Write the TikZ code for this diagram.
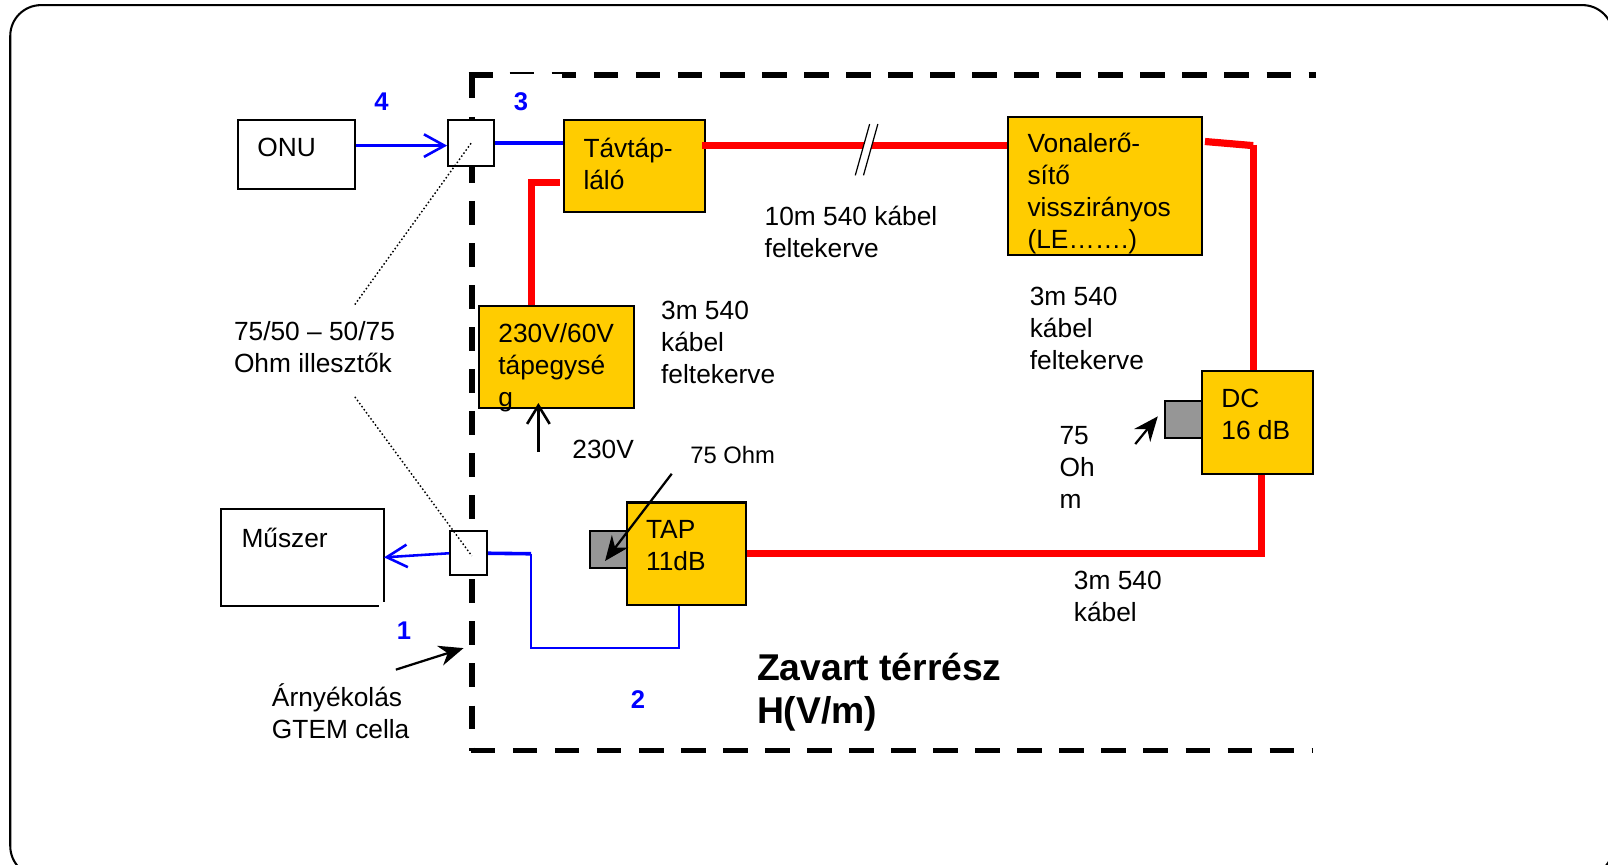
\documentclass[tikz,border=0pt]{standalone}
\usepackage{fontspec}
\setmainfont{Liberation Sans}
\usetikzlibrary{calc, arrows.meta}
\definecolor{Amber}{HTML}{FFCC00}
\definecolor{Cable}{HTML}{FF0000}
\definecolor{Feed}{HTML}{0000FF}
\definecolor{Plug}{HTML}{969696}
\newcommand{\inbox}[3]{\parbox[c][#2][t]{#1}{\vspace*{0.175cm}\leftskip=0.19cm\rightskip=0pt plus 1fil #3}}
\tikzset{
    plainnode/.style={rectangle, draw=black, line width=0.02cm, fill=white, inner sep=0pt, font=\fontsize{7.3}{8.9}\selectfont},
    ambernode/.style={plainnode, fill=Amber},
    plugnode/.style={plainnode, fill=Plug, minimum width=0.36cm, minimum height=0.36cm},
    note/.style={anchor=north west, inner sep=0pt, align=left, font=\fontsize{7.3}{8.9}\selectfont},
    portnum/.style={inner sep=0pt, text=Feed, font=\bfseries\fontsize{7.1}{8.5}\selectfont},
    shield/.style={line width=0.055cm, dash pattern=on 0.24cm off 0.17cm},
    cable/.style={line width=0.07cm, color=Cable},
    feedline/.style={line width=0.02cm, color=Feed},
    feedarrow/.style={line width=0.025cm, color=Feed, -{Straight Barb[length=0.2cm, width=0.22cm]}},
    pointer/.style={line width=0.022cm, -{Stealth[length=0.24cm, width=0.2cm]}},
    leader/.style={line width=0.014cm, dash pattern=on 0.015cm off 0.022cm},
}
\begin{document}
\begin{tikzpicture}
    \useasboundingbox (0,0) rectangle (15.68,8.43);
    % Keret
    \draw[line width=0.02cm, rounded corners=0.3cm] (0.1,8.38) rectangle (15.73,-0.12);

    % Arnyekolas (szaggatott)
    \draw[shield, dash pattern=on 0.23cm off 0.18cm] (4.60,7.70) -- (4.60,1.11);
    \draw[shield] (4.57,7.70) -- (4.81,7.70);
    \draw[line width=0.015cm] (4.97,7.72) -- (5.21,7.72);
    \draw[line width=0.015cm] (5.38,7.72) -- (5.48,7.72);
    \draw[shield, dash phase=0.10cm] (5.48,7.70) -- (12.83,7.70);
    \draw[shield] (4.59,1.11) -- (12.80,1.11);

    % Dobozok
    \node[plainnode, minimum width=1.14cm, minimum height=0.67cm] (onu) at (2.89,6.925) {\inbox{1.14cm}{0.67cm}{ONU}};
    \node[plainnode, minimum width=1.57cm, minimum height=0.92cm, draw=none, fill=none] (muszer) at (2.95,2.995) {\inbox{1.57cm}{0.92cm}{Műszer}};
    \draw[line width=0.02cm] ($(muszer.south east)+(-0.05,0)$) -- (muszer.south west) -- (muszer.north west) -- (muszer.north east) -- ($(muszer.south east)+(0,0.03)$);
    \node[plainnode, minimum width=0.45cm, minimum height=0.45cm] (adaptA) at (4.595,7.035) {};
    \node[plainnode, minimum width=0.36cm, minimum height=0.43cm] (adaptB) at (4.57,3.035) {};
    \node[ambernode, minimum width=1.37cm, minimum height=0.90cm] (tavtap) at (6.185,6.81) {\inbox{1.37cm}{0.90cm}{Távtáp-\\láló}};
    \node[ambernode, minimum width=1.89cm, minimum height=1.35cm] (vonal) at (10.775,6.615) {\inbox{1.89cm}{1.35cm}{\vspace*{-0.02cm}Vonalerő-\\sítő\\visszirányos\\(LE…….)}};
    \node[ambernode, minimum width=1.51cm, minimum height=1.00cm] (tapegyseg) at (5.425,4.95) {\inbox{1.51cm}{1.00cm}{230V/60V\\tápegysé\\g}};
    \node[ambernode, minimum width=1.08cm, minimum height=1.00cm] (dc) at (12.26,4.31) {\inbox{1.08cm}{1.00cm}{DC\\16 dB}};
    \node[plugnode] (dcplug) at (11.54,4.34) {};
    \node[ambernode, minimum width=1.16cm, minimum height=1.00cm] (tap) at (6.69,3.03) {\inbox{1.16cm}{1.00cm}{TAP\\11dB}};
    \node[plugnode] (tapplug) at (5.93,3.07) {};

    % Segedpontok
    \coordinate (railA) at (0,7.01);
    \coordinate (redA) at (5.18,6.65);
    \coordinate (redB) at (5.46,6.65);
    \coordinate (redC) at (11.75,7.05);
    \coordinate (redD) at (12.22,7.01);
    \coordinate (redE) at (12.30,3.03);
    \coordinate (blueA) at (5.18,3.03);
    \coordinate (blueB) at (6.62,2.11);
    \coordinate (mainsIn) at (5.25,4.02);
    \coordinate (mainsTip) at (5.25,4.50);
    \coordinate (tapFrom) at (6.55,3.81);
    \coordinate (tapTo) at (5.90,2.96);
    \coordinate (dcFrom) at (11.07,4.10);
    \coordinate (dcTo) at (11.29,4.37);
    \coordinate (shieldFrom) at (3.86,1.90);
    \coordinate (shieldTo) at (4.52,2.11);
    \coordinate (dotA) at (3.46,5.46);
    \coordinate (dotB) at (3.46,4.56);

    % Kabelek
    \draw[cable] ($(tavtap.east |- railA)+(-0.03,0)$) -- (vonal.west |- railA);
    \fill[white] (8.34,6.72) -- (8.42,6.72) -- (8.56,7.22) -- (8.48,7.22) -- cycle;
    \draw[line width=0.012cm] (8.34,6.72) -- (8.48,7.22);
    \draw[line width=0.012cm] (8.42,6.72) -- (8.56,7.22);
    \draw[cable] (redA |- tapegyseg.north) -- (redA) -- (redB);
    \draw[cable] (redC) -- (redD);
    \draw[cable] ($(redD)+(0,0.01)$) -- (redD |- dc.north);
    \draw[cable] (tap.east) -- (redE);
    \draw[cable] ($(redE)+(0,-0.03)$) -- (redE |- dc.south);

    % Kek vezetekek
    \draw[feedarrow] (onu.east |- railA) -- (adaptA.west |- railA);
    \draw[feedline, line width=0.04cm] (adaptA.east) -- (adaptA.east -| tavtap.west);
    \draw[feedarrow] (adaptB.west) -- (muszer.east);
    \draw[feedline, line width=0.035cm] (adaptB.east) -- (blueA);
    \draw[feedline] (blueA) -- (blueA |- blueB) -- (blueB) -- (blueB |- tap.south);

    % Nyilak
    \draw[line width=0.025cm, -{Straight Barb[length=0.18cm, width=0.22cm]}] (mainsIn) -- (mainsTip);
    \draw[pointer] (tapFrom) -- (tapTo);
    \draw[pointer] (dcFrom) -- (dcTo);
    \draw[pointer] (shieldFrom) -- (shieldTo);
    \draw[leader] (dotA) -- (adaptA.center);
    \draw[leader] (dotB) -- ($(adaptB.center)+(0.03,-0.025)$);

    % Feliratok
    \node[portnum] (numFour) at (3.72,7.44) {4};
    \node[portnum] (numThree) at (5.08,7.44) {3};
    \node[portnum] (numOne) at (3.94,2.28) {1};
    \node[portnum] (numTwo) at (6.22,1.61) {2};
    \node[note] (tenMeter) at (7.45,6.425) {10m 540 kábel\\feltekerve};
    \node[note] (leftCoil) at (6.44,5.505) {3m 540\\kábel\\feltekerve};
    \node[note] (rightCoil) at (10.035,5.64) {3m 540\\kábel\\feltekerve};
    \node[note] (matching) at (2.275,5.30) {75/50 – 50/75\\Ohm illesztők};
    \node[note] (mains) at (5.575,4.15) {230V};
    \node[note, font=\fontsize{6.6}{8}\selectfont] (tapLoad) at (6.725,4.09) {75 Ohm};
    \node[note] (dcLoad) at (10.325,4.28) {75\\Oh\\m};
    \node[note] (lowCable) at (10.465,2.87) {3m 540\\kábel};
    \node[note] (shieldText) at (2.645,1.77) {Árnyékolás\\GTEM cella};
    \node[note, font=\bfseries\fontsize{10.35}{11.9}\selectfont] (zone) at (7.375,2.07) {Zavart térrész\\H(V/m)};
\end{tikzpicture}
\end{document}
